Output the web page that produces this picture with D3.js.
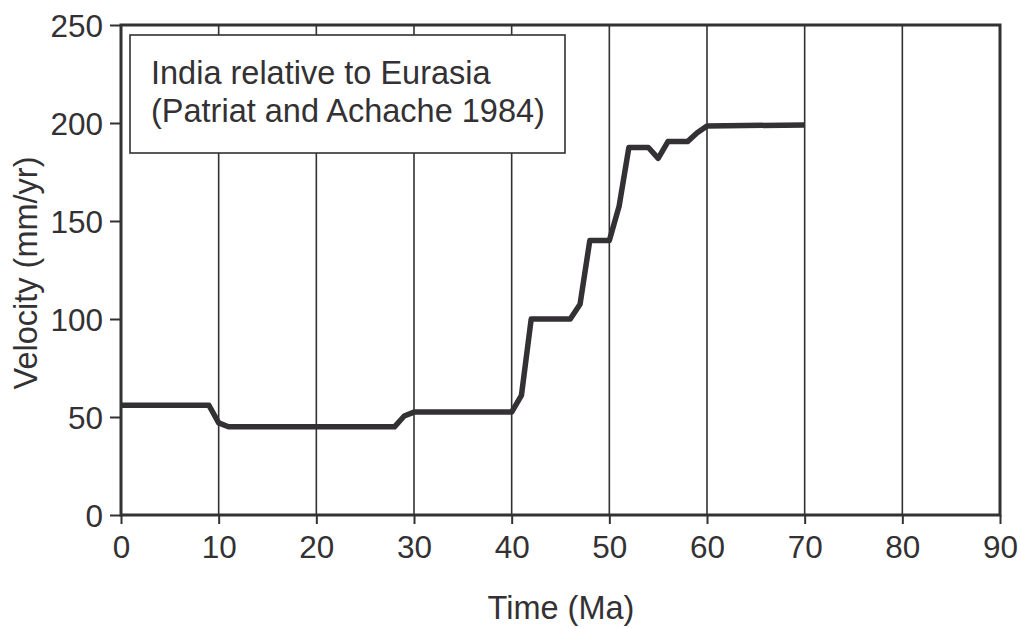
<!DOCTYPE html>
<html>
<head>
<meta charset="utf-8">
<script src="https://cdn.jsdelivr.net/npm/d3@7"></script>
<style>
  html, body { margin: 0; padding: 0; background: #fff; }
  svg { display: block; font-family: "Liberation Sans", Arial, Helvetica, sans-serif; }
</style>
</head>
<body>
<svg id="chart" width="1021" height="628"></svg>
<script>
// India–Eurasia convergence velocity through time
const timeMa = [0, 9, 10, 11, 28, 29, 30, 40, 41, 42, 46, 47, 48, 50, 51, 52, 54, 55, 56, 58, 59, 60, 70];
const velocity = [56, 56, 47, 45, 45, 50.5, 52.5, 52.5, 61, 100, 100, 107.5, 140, 140, 157.5, 187.5, 187.5, 182, 190.5, 190.5, 195, 198.5, 199];
const xTicks = [0, 10, 20, 30, 40, 50, 60, 70, 80, 90];
const yTicks = [0, 50, 100, 150, 200, 250];
const legendLines = ["India relative to Eurasia", "(Patriat and Achache 1984)"];
const xTitle = "Time (Ma)";
const yTitle = "Velocity (mm/yr)";

const ink = "#333133";
const tickFont = 31.5;
const labelFont = 32.5;

const svg = d3.select("#chart");
const margin = { left: 121, right: 21, top: 25, bottom: 113 };
const W = 1021, H = 628;
const x = d3.scaleLinear().domain([0, 90]).range([margin.left, W - margin.right]);
const y = d3.scaleLinear().domain([0, 250]).range([H - margin.bottom, margin.top]);

// vertical grid lines
svg.append("g")
  .selectAll("line")
  .data(xTicks.filter(d => d > 0 && d < 90))
  .join("line")
  .attr("x1", d => x(d)).attr("x2", d => x(d))
  .attr("y1", y(250)).attr("y2", y(0))
  .attr("stroke", ink).attr("stroke-width", 1.6);

// legend box (drawn over the grid)
const lg = svg.append("g");
lg.append("rect")
  .attr("x", 130).attr("y", 35)
  .attr("width", 435).attr("height", 118)
  .attr("fill", "#fff").attr("stroke", ink).attr("stroke-width", 1.6);
lg.selectAll("text")
  .data(legendLines)
  .join("text")
  .attr("x", 151)
  .attr("y", (d, i) => 84 + i * 38)
  .attr("font-size", labelFont)
  .attr("fill", ink)
  .text(d => d);

// axes
const xAxis = d3.axisBottom(x).tickValues(xTicks).tickSize(9).tickPadding(12).tickFormat(d3.format("d"));
const yAxis = d3.axisLeft(y).tickValues(yTicks).tickSize(11).tickPadding(7).tickFormat(d3.format("d"));

const gx = svg.append("g").attr("transform", `translate(0,${y(0)})`).call(xAxis);
const gy = svg.append("g").attr("transform", `translate(${x(0)},0)`).call(yAxis);
[gx, gy].forEach(g => {
  g.select(".domain").remove();
  g.selectAll(".tick line").attr("stroke", ink).attr("stroke-width", 2);
  g.selectAll(".tick text").attr("font-size", tickFont).attr("fill", ink)
    .attr("font-family", "Liberation Sans, Arial, sans-serif");
});
gy.selectAll(".tick text").attr("dy", "0.36em");

// plot frame
svg.append("rect")
  .attr("x", x(0)).attr("y", y(250))
  .attr("width", x(90) - x(0)).attr("height", y(0) - y(250))
  .attr("fill", "none").attr("stroke", ink).attr("stroke-width", 3);

// velocity curve
const line = d3.line().x((d, i) => x(timeMa[i])).y(d => y(d));
svg.append("path")
  .datum(velocity)
  .attr("d", line)
  .attr("fill", "none")
  .attr("stroke", ink)
  .attr("stroke-width", 5.5)
  .attr("stroke-linejoin", "round");

// axis titles
svg.append("text")
  .attr("x", 561).attr("y", 619)
  .attr("text-anchor", "middle")
  .attr("font-size", labelFont).attr("fill", ink)
  .text(xTitle);
svg.append("text")
  .attr("transform", `translate(37,273) rotate(-90)`)
  .attr("text-anchor", "middle")
  .attr("font-size", labelFont).attr("fill", ink)
  .text(yTitle);
</script>
</body>
</html>
